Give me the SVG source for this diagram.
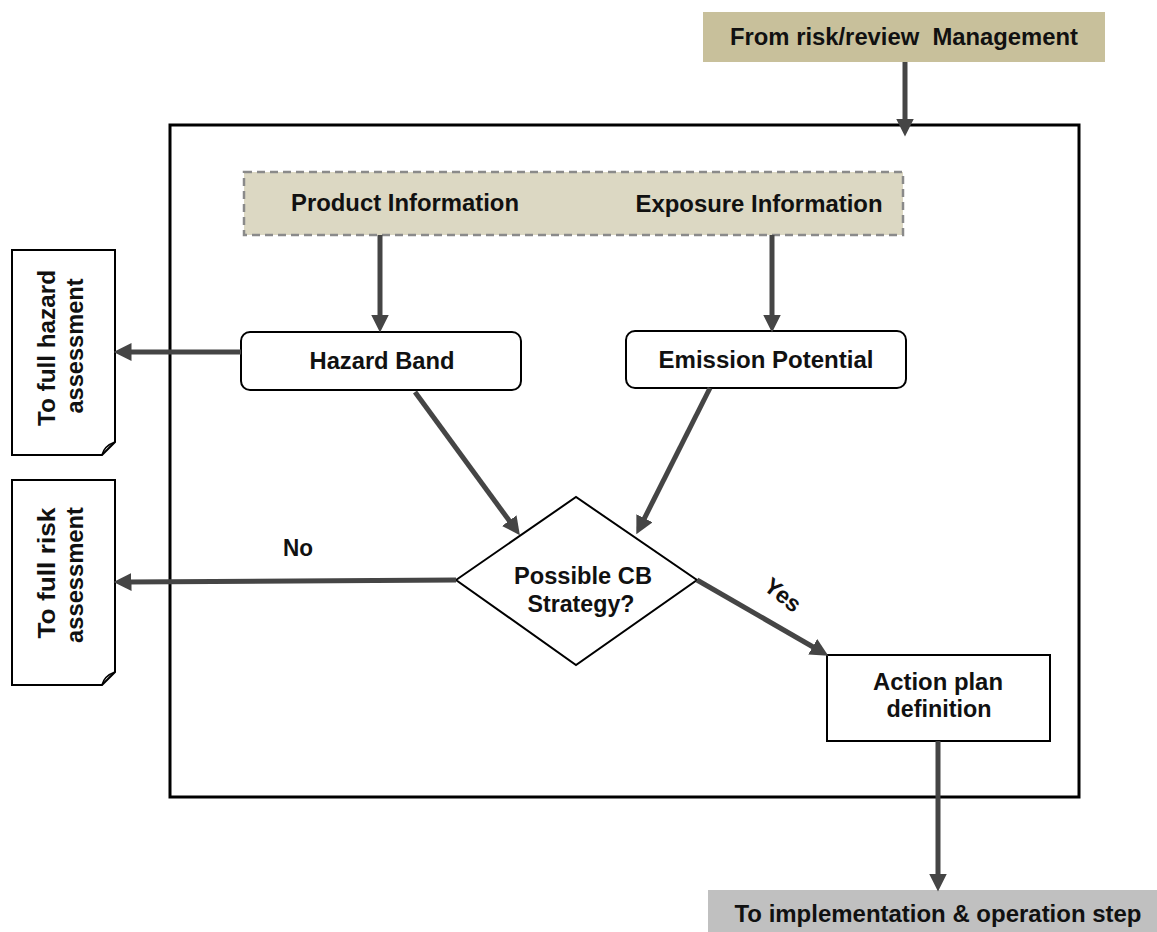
<svg xmlns="http://www.w3.org/2000/svg" width="1157" height="932" viewBox="0 0 1157 932">
<style>
text{font-family:"Liberation Sans",Arial,sans-serif;font-weight:bold;font-size:23px;fill:#111;text-anchor:middle}
.box{fill:#fff;stroke:#000;stroke-width:2}
.conn{stroke:#454545;stroke-width:5;fill:none;marker-end:url(#ah)}
</style>
<defs>
<marker id="ah" markerUnits="userSpaceOnUse" markerWidth="18" markerHeight="18" refX="4" refY="8" orient="auto" viewBox="0 0 16 16">
<path d="M0,0 L16,8 L0,16 z" fill="#454545"/>
</marker>
</defs>
<rect width="1157" height="932" fill="#fff"/>
<g id="main-frame"><rect x="170" y="125" width="909" height="672" fill="none" stroke="#000" stroke-width="3"/></g>
<g id="from-mgmt"><rect x="703" y="12" width="402" height="50" fill="#c8c09b"/><text x="904" y="45" font-size="22" xml:space="preserve" textLength="348" lengthAdjust="spacingAndGlyphs">From risk/review  Management</text></g>
<g id="info"><rect x="244" y="172" width="659" height="63" fill="#dcd8c3" stroke="#8a8a8a" stroke-width="2.5" stroke-dasharray="8,5"/>
<text x="405" y="211" textLength="228" lengthAdjust="spacingAndGlyphs">Product Information</text>
<text x="759" y="212" textLength="247" lengthAdjust="spacingAndGlyphs">Exposure Information</text></g>
<g id="hazard-band"><rect class="box" x="241" y="332" width="280" height="58" rx="9"/><text x="382" y="369" textLength="145" lengthAdjust="spacingAndGlyphs">Hazard Band</text></g>
<g id="emission"><rect class="box" x="626" y="331" width="280" height="57" rx="9"/><text x="766" y="368" textLength="215" lengthAdjust="spacingAndGlyphs">Emission Potential</text></g>
<g id="decision"><path class="box" d="M456,580 L576,497 L697,580 L576,665 Z"/>
<text x="583" y="584" font-size="21" textLength="138" lengthAdjust="spacingAndGlyphs">Possible CB</text>
<text x="581" y="612" font-size="21" textLength="107" lengthAdjust="spacingAndGlyphs">Strategy?</text></g>
<g id="action"><rect class="box" x="827" y="655" width="223" height="86"/>
<text x="938" y="690" font-size="21" textLength="130" lengthAdjust="spacingAndGlyphs">Action plan</text>
<text x="939" y="717" font-size="21" textLength="105" lengthAdjust="spacingAndGlyphs">definition</text></g>
<g id="to-impl"><rect x="708" y="890" width="449" height="42" fill="#c0c0c0"/><text x="938" y="922" font-size="22" textLength="407" lengthAdjust="spacingAndGlyphs">To implementation &amp; operation step</text></g>
<g id="hazard-note"><path class="box" d="M12,250 H115 V442 L102,455 H12 Z"/><path d="M102,455 Q104,446 115,442" fill="none" stroke="#000" stroke-width="1.5"/>
<text transform="translate(55,348) rotate(-90)" font-size="22" textLength="156" lengthAdjust="spacingAndGlyphs">To full hazard</text>
<text transform="translate(83,346) rotate(-90)" font-size="22" textLength="135" lengthAdjust="spacingAndGlyphs">assessment</text></g>
<g id="risk-note"><path class="box" d="M12,480 H115 V672 L102,685 H12 Z"/><path d="M102,685 Q104,676 115,672" fill="none" stroke="#000" stroke-width="1.5"/>
<text transform="translate(55,573) rotate(-90)" font-size="22" textLength="131" lengthAdjust="spacingAndGlyphs">To full risk</text>
<text transform="translate(83,575) rotate(-90)" font-size="22" textLength="136" lengthAdjust="spacingAndGlyphs">assessment</text></g>
<g id="connectors">
<path class="conn" d="M905,62 L905,123"/>
<path class="conn" d="M380,235 L380,319"/>
<path class="conn" d="M772,235 L772,319"/>
<path class="conn" d="M241,352 L127,352"/>
<path class="conn" d="M415,392 L511.9,524.3"/>
<path class="conn" d="M710,388 L642.4,522.3"/>
<path class="conn" d="M456,580 L127,582"/>
<path class="conn" d="M697,580 L816.6,649"/>
<path class="conn" d="M938,741 L938,878"/>
<text x="298" y="556" font-size="21" textLength="30" lengthAdjust="spacingAndGlyphs">No</text>
<text transform="translate(778,601) rotate(38)" font-size="21" textLength="40" lengthAdjust="spacingAndGlyphs">Yes</text>
</g>
</svg>
